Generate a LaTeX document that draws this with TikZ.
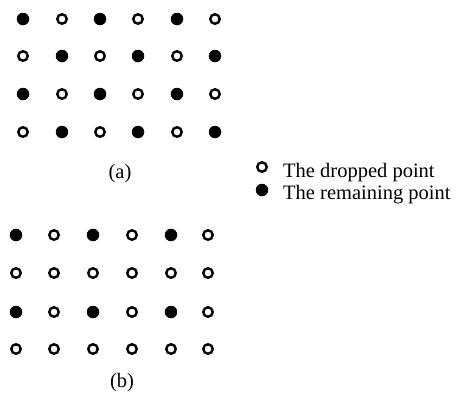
\documentclass[tikz,border=0pt]{standalone}
\usepackage{fontspec}
\setmainfont{Liberation Serif}
\begin{document}
\begin{tikzpicture}[x=1pt,y=-1pt,
  fdot/.style={circle,fill=black,inner sep=0pt,minimum size=12.5pt},
  odot/.style={circle,draw=black,line width=2.4pt,fill=white,inner sep=0pt,minimum size=9.5pt},
  lbl/.style={font=\fontsize{20.5}{22}\selectfont,inner sep=0pt},
]
\useasboundingbox (0,0) rectangle (460,392);
% grid (a)
\foreach \r/\y in {1/19,2/56,3/94,4/132}{
  \foreach \c/\x in {1/23,2/62,3/100,4/138,5/177,6/215}{
    \pgfmathtruncatemacro{\pp}{mod(\r+\c,2)}
    \ifnum\pp=0
      \node[fdot] (a-\r-\c) at (\x,\y) {};
    \else
      \node[odot] (a-\r-\c) at (\x,\y) {};
    \fi
  }
}
\node[lbl,anchor=base] (la) at (120,178) {(a)};
% grid (b)
\foreach \r/\y in {1/235,2/273,3/312,4/349}{
  \foreach \c/\x in {1/16,2/54,3/93,4/132,5/171,6/208}{
    \pgfmathtruncatemacro{\pp}{mod(\r,2)*(1-mod(\c+1,2))}
    \ifnum\pp=1
      \node[fdot] (b-\r-\c) at (\x,\y) {};
    \else
      \node[odot] (b-\r-\c) at (\x,\y) {};
    \fi
  }
}
\node[lbl,anchor=base] (lb) at (122,387) {(b)};
% legend
\node[odot] (ko) at (262,167) {};
\node[lbl,anchor=base west] (to) at (283,177) {The dropped point};
\node[fdot] (kf) at (262,190) {};
\node[lbl,anchor=base west] (tf) at (283,199) {The remaining point};
\end{tikzpicture}
\end{document}
